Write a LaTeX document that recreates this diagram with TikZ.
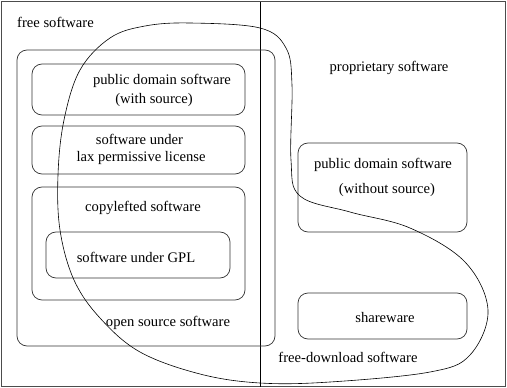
\documentclass[tikz,border=0pt]{standalone}
\usepackage{fontspec}
\setmainfont{Liberation Serif}
\begin{document}
\begin{tikzpicture}[x=1pt,y=-1pt,
  box/.style={draw=black!80, line width=0.7pt, rounded corners=10pt},
  lbl/.style={inner sep=0pt, font=\fontsize{14.6}{17}\selectfont}]
\useasboundingbox (0,0) rectangle (507,388);
\draw[draw=black!70, line width=0.9pt] (1.5,1.5) rectangle (505.5,386.5);
\coordinate (vt) at (260,1.5);
\coordinate (vb) at (260,386.5);
\draw[line width=0.8pt] (vt) -- (vb);
% boxes
\draw[box] (17,50) rectangle (275,346);
\draw[box] (32,64) rectangle (245,115);
\draw[box] (32,126) rectangle (245,174);
\draw[box] (32,187) rectangle (245,300);
\draw[box] (46,232) rectangle (230,278);
\draw[box] (298,143) rectangle (467,232);
\draw[box] (298,293) rectangle (467,339);
% curve
\draw[line width=0.6pt] plot[smooth cycle, tension=0.6] coordinates {
 (190,23) (260,28) (286,48) (292,85) (291,160) (300,196) (350,212) (410,228)
 (465,262) (488,310) (470,355) (430,372) (330,382) (260,383) (200,374)
 (140,352) (100,318) (74,280) (60,230) (58,175) (64,120) (80,70) (110,38) (145,26)};
% labels
\node[lbl, anchor=west] (free) at (17,22) {free software};
\node[lbl] (pd1) at (162,81) {public domain software};
\node[lbl] (pd2) at (154,100) {(with source)};
\node[lbl] (lax1) at (139.5,139) {software under};
\node[lbl] (lax2) at (141,158) {lax permissive license};
\node[lbl] (copy) at (143,208) {copylefted software};
\node[lbl] (gpl) at (136,257) {software under GPL};
\node[lbl] (oss) at (168,323) {open source software};
\node[lbl] (prop) at (389,68) {proprietary software};
\node[lbl] (pdn1) at (383,165) {public domain software};
\node[lbl] (pdn2) at (387,190) {(without source)};
\node[lbl] (share) at (385,318) {shareware};
\node[lbl] (fdl) at (348,357) {free-download software};
\end{tikzpicture}
\end{document}
